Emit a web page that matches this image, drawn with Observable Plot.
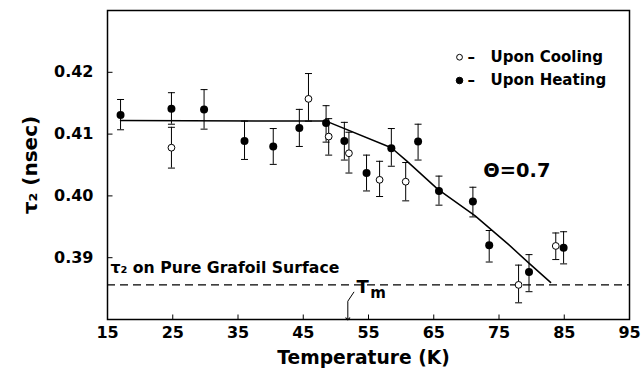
<!DOCTYPE html>
<html><head><meta charset="utf-8">
<script src="https://cdn.jsdelivr.net/npm/d3@7"></script>
<script src="https://cdn.jsdelivr.net/npm/@observablehq/plot@0.6"></script>
<style>body{margin:0;background:#fff}</style>
</head><body><div id="chart"></div>
<script>
// Upon Heating (filled)
const heatT  = [17.0, 24.8, 29.8, 36.0, 40.4, 44.4, 48.5, 51.3, 54.7, 58.5, 62.6, 65.8, 71.0, 73.5, 79.6, 84.9];
const heatV  = [0.4131, 0.4141, 0.4140, 0.4089, 0.4080, 0.4110, 0.4118, 0.4089, 0.4037, 0.4077, 0.4088, 0.4008, 0.3991, 0.3920, 0.3877, 0.3916];
const heatLo = [0.4107, 0.4116, 0.4108, 0.4059, 0.4051, 0.4080, 0.4087, 0.4058, 0.4008, 0.4048, 0.4058, 0.3985, 0.3966, 0.3893, 0.3845, 0.3890];
const heatHi = [0.4156, 0.4167, 0.4172, 0.4121, 0.4109, 0.4140, 0.4146, 0.4119, 0.4066, 0.4109, 0.4116, 0.4032, 0.4014, 0.3944, 0.3905, 0.3942];
// Upon Cooling (open)
const coolT  = [24.8, 45.8, 48.9, 52.0, 56.7, 60.7, 78.0, 83.7];
const coolV  = [0.4078, 0.4157, 0.4096, 0.4069, 0.4026, 0.4023, 0.3856, 0.3919];
const coolLo = [0.4045, 0.4121, 0.4066, 0.4037, 0.3999, 0.3992, 0.3827, 0.3897];
const coolHi = [0.4111, 0.4198, 0.4125, 0.4103, 0.4056, 0.4054, 0.3888, 0.3940];
// fitted curve
const fitT = [17.0, 48.5, 58.5, 60.8, 65.6, 71.3, 76.4, 79.5, 82.9];
const fitV = [0.4122, 0.4121, 0.4078, 0.4057, 0.4011, 0.3968, 0.3922, 0.3892, 0.3860];
// reference level and Tm
const pureGrafoil = 0.3856;
const tmArrowT = [52.75, 51.83, 51.83];
const tmArrowV = [0.38442, 0.38296, 0.38010];
// ticks
const xTicks = [15, 25, 35, 45, 55, 65, 75, 85, 95];
const yTicks = [0.39, 0.40, 0.41, 0.42];
const xDomain = [15, 95];
const yDomain = [0.38, 0.43];
// legend
const legendLabels = ["Upon Cooling", "Upon Heating"];
const legendV = [0.42244, 0.41867];
const legendDotT = 68.95, legendDashT = 70.17, legendTextT = 73.7;

const heat = heatT.map((t, i) => ({t, v: heatV[i], lo: heatLo[i], hi: heatHi[i]}));
const cool = coolT.map((t, i) => ({t, v: coolV[i], lo: coolLo[i], hi: coolHi[i]}));
const fit = fitT.map((t, i) => ({t, v: fitV[i]}));
const tmArrow = tmArrowT.map((t, i) => ({t, v: tmArrowV[i]}));
const legend = legendLabels.map((label, i) => ({label, v: legendV[i], filled: i === 1}));
const bars = [...heat, ...cool];

const capSym = {draw(ctx, size) { const w = Math.sqrt(size / Math.PI); ctx.moveTo(-w, 0); ctx.lineTo(w, 0); }};
const tickUp = {draw(ctx, size) { const l = Math.sqrt(size / Math.PI); ctx.moveTo(0, 0); ctx.lineTo(0, -l); }};
const tickRight = {draw(ctx, size) { const l = Math.sqrt(size / Math.PI); ctx.moveTo(0, 0); ctx.lineTo(l, 0); }};

const bold = {fontWeight: "bold", fill: "black"};

const chart = Plot.plot({
  width: 641, height: 381,
  marginLeft: 107, marginRight: 12, marginTop: 10, marginBottom: 62,
  x: {domain: xDomain},
  y: {domain: yDomain},
  style: {fontFamily: "DejaVu Sans, sans-serif", background: "white", color: "black"},
  marks: [
    Plot.axisX({ticks: xTicks, tickSize: 0, tickPadding: 7, fontSize: 16, label: null, ...bold}),
    Plot.axisY({ticks: yTicks, tickSize: 0, tickPadding: 14, fontSize: 16, label: null, tickFormat: d3.format(".2f"), ...bold}),
    Plot.dot(xTicks, {x: d => d, frameAnchor: "bottom", symbol: tickUp, r: 5, stroke: "black", fill: "none", strokeWidth: 1}),
    Plot.dot(yTicks, {y: d => d, frameAnchor: "left", symbol: tickRight, r: 5, stroke: "black", fill: "none", strokeWidth: 1}),
    Plot.ruleY([pureGrafoil], {stroke: "black", strokeWidth: 1.2, strokeDasharray: "8,5"}),
    Plot.line(fit, {x: "t", y: "v", stroke: "black", strokeWidth: 1.5}),
    Plot.ruleX(bars, {x: "t", y1: "lo", y2: "hi", stroke: "black", strokeWidth: 1}),
    Plot.dot(bars, {x: "t", y: "lo", symbol: capSym, r: 3.5, stroke: "black", fill: "none", strokeWidth: 1}),
    Plot.dot(bars, {x: "t", y: "hi", symbol: capSym, r: 3.5, stroke: "black", fill: "none", strokeWidth: 1}),
    Plot.dot(cool, {x: "t", y: "v", r: 3.4, fill: "white", stroke: "black", strokeWidth: 1}),
    Plot.dot(heat, {x: "t", y: "v", r: 4, fill: "black"}),
    Plot.line(tmArrow, {x: "t", y: "v", stroke: "black", strokeWidth: 1, markerEnd: "arrow"}),
    Plot.text(["T"], {x: 54.1, y: 0.38421, text: d => d, textAnchor: "middle", lineAnchor: "bottom", fontSize: 18, ...bold}),
    Plot.text(["m"], {x: 56.45, y: 0.3834, text: d => d, textAnchor: "middle", lineAnchor: "bottom", fontSize: 15, ...bold}),
    Plot.text(["τ₂ on Pure Grafoil Surface"], {x: 15.46, y: 0.3876, text: d => d, textAnchor: "start", lineAnchor: "bottom", fontSize: 15.7, ...bold}),
    Plot.text(["Θ=0.7"], {x: 72.6, y: 0.4030, text: d => d, textAnchor: "start", lineAnchor: "bottom", fontSize: 19.4, ...bold}),
    Plot.dot(legend, {x: () => legendDotT, y: "v", r: d => d.filled ? 3.6 : 2.8, fill: d => d.filled ? "black" : "white", stroke: "black", strokeWidth: 1}),
    Plot.text(legend, {x: () => legendDashT, y: "v", text: () => "–", textAnchor: "start", lineAnchor: "middle", fontSize: 15, ...bold}),
    Plot.text(legend, {x: () => legendTextT, y: "v", text: "label", textAnchor: "start", lineAnchor: "middle", fontSize: 15, ...bold}),
    Plot.text(["Temperature (K)"], {frameAnchor: "bottom", text: d => d, dx: -5, dy: 44, textAnchor: "middle", lineAnchor: "bottom", fontSize: 18.7, ...bold}),
    Plot.text(["τ₂ (nsec)"], {frameAnchor: "left", text: d => d, rotate: -90, dx: -77, textAnchor: "middle", lineAnchor: "middle", fontSize: 20, ...bold}),
    Plot.frame({stroke: "black", strokeWidth: 1.5})
  ]
});
document.getElementById("chart").appendChild(chart);
</script>
</body></html>
